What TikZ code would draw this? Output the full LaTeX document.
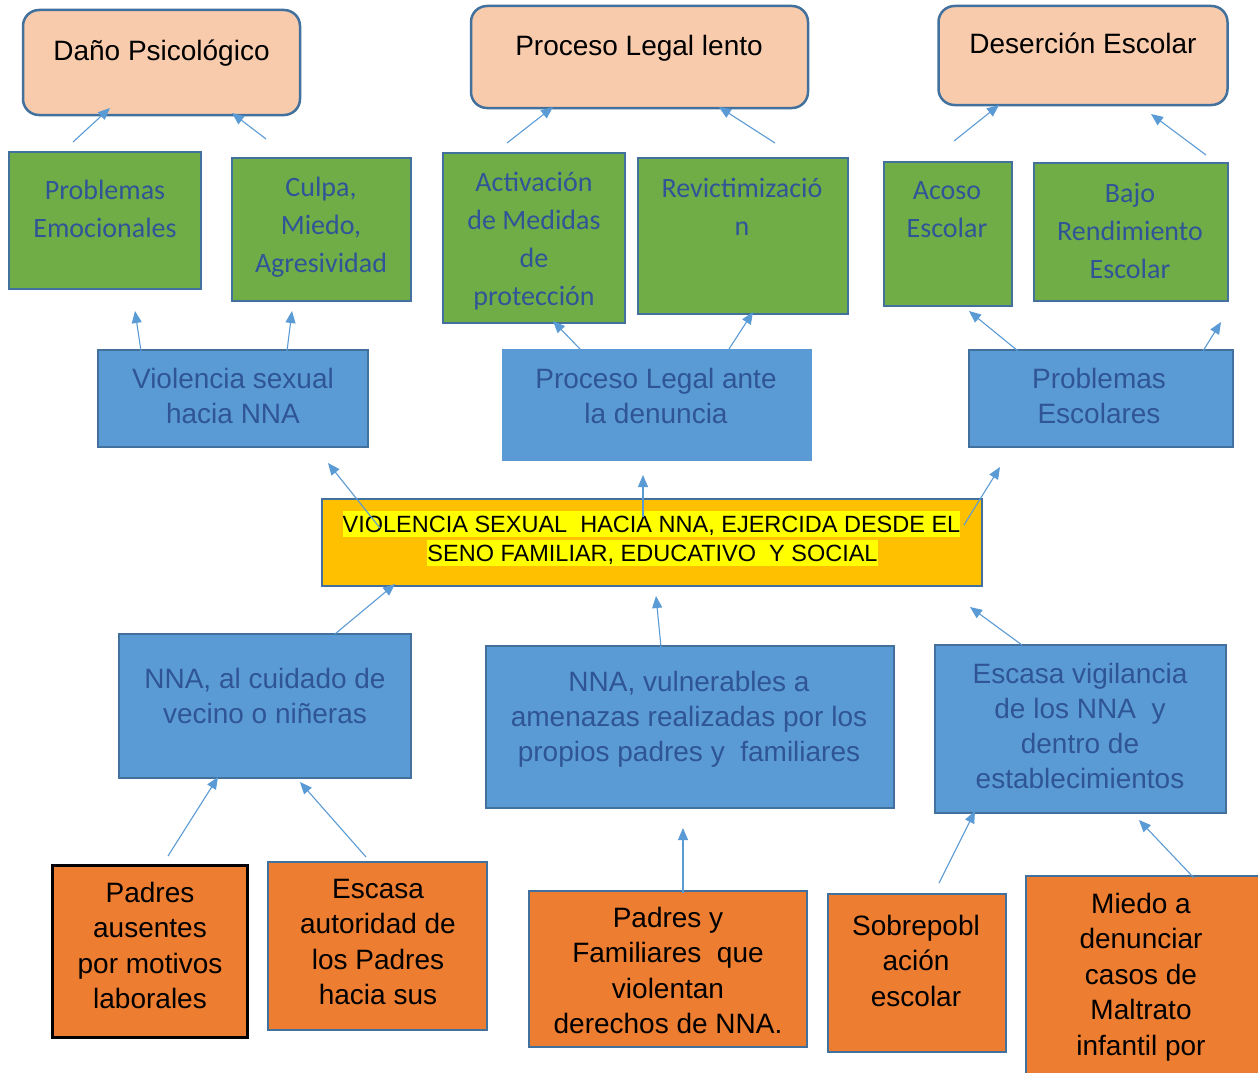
\documentclass[tikz,border=0pt]{standalone}
\usepackage{fontspec}
\setmainfont{Liberation Sans}
\newfontfamily\calfont{Carlito}
\usetikzlibrary{arrows.meta}
\definecolor{peach}{HTML}{F8CBAD}
\definecolor{bord}{HTML}{41719C}
\definecolor{grn}{HTML}{70AD47}
\definecolor{blu}{HTML}{5B9BD5}
\definecolor{org}{HTML}{ED7D31}
\definecolor{gold}{HTML}{FFC000}
\definecolor{hl}{HTML}{FFFF00}
\definecolor{tblue}{HTML}{2F5597}
\definecolor{arrc}{HTML}{5B9BD5}
\begin{document}
\begin{tikzpicture}[x=1pt,y=-1pt,
 box/.style={draw=bord, line width=2pt, inner sep=0pt},
 pbox/.style={box, fill=peach, rounded corners=16pt, line width=2.5pt},
 gbox/.style={box, fill=grn},
 bbox/.style={box, fill=blu},
 obox/.style={box, fill=org},
 cbox/.style={box, fill=gold},
 txt/.style={inner sep=0pt, align=center, anchor=north},
 ptxt/.style={inner sep=0pt, anchor=base, font=\fontsize{28}{35}\selectfont, text=black},
 gtxt/.style={txt, font=\calfont\fontsize{28}{38}\selectfont, text=tblue},
 btxt/.style={txt, font=\fontsize{28}{35}\selectfont, text=tblue},
 otxt/.style={txt, font=\fontsize{28}{35.5}\selectfont, text=black},
 ctxt/.style={inner sep=0pt, anchor=base, fill=hl, text height=21pt, text depth=5pt, font=\fontsize{23.5}{29}\selectfont, text=black},
 arr/.style={draw=arrc, line width=1.1pt, -{Triangle[length=12pt,width=10pt]}}]
\clip (0,0) rectangle (1258,1073);
\fill[white] (0,0) rectangle (1258,1073);

% top peach boxes
\node[pbox, minimum width=277pt, minimum height=105pt] (dp) at (161.5,62.5) {};
\node[pbox, minimum width=337pt, minimum height=102pt] (pl) at (639.5,57) {};
\node[pbox, minimum width=289pt, minimum height=99pt] (de) at (1083,55.5) {};
\node[ptxt] (dpt) at (161.5,61) {Daño Psicológico};
\node[ptxt] (plt) at (639,56) {Proceso Legal lento};
\node[ptxt] (det) at (1083,54) {Deserción Escolar};

% green boxes
\node[gbox, minimum width=192pt, minimum height=137pt] (pe) at (105,220.5) {};
\node[gbox, minimum width=179pt, minimum height=143pt] (cu) at (321.5,229.5) {};
\node[gbox, minimum width=182pt, minimum height=170pt] (ac) at (534,238) {};
\node[gbox, minimum width=210pt, minimum height=156pt] (rv) at (743,236) {};
\node[gbox, minimum width=128pt, minimum height=144pt] (ao) at (948,234) {};
\node[gbox, minimum width=194pt, minimum height=138pt] (bj) at (1131,232) {};
\node[gtxt] (pet) at (105,172.4) {\strut Problemas\\Emocionales\strut};
\node[gtxt] (cut) at (321,169.4) {\strut Culpa,\\Miedo,\\Agresividad\strut};
\node[gtxt] (act) at (534,164.4) {\strut Activación\\de Medidas\\de\\protección\strut};
\node[gtxt] (rvt) at (742,170.4) {\strut Revictimizació\\n\strut};
\node[gtxt] (aot) at (947,172.4) {\strut Acoso\\Escolar\strut};
\node[gtxt] (bjt) at (1130,175.4) {\strut Bajo\\Rendimiento\\Escolar\strut};

% middle blue boxes
\node[bbox, minimum width=270pt, minimum height=97pt] (vs) at (233,398) {};
\node[bbox, draw=blu, minimum width=308pt, minimum height=110pt] (plb) at (657,405) {};
\node[bbox, minimum width=264pt, minimum height=97pt] (ps) at (1101,398.5) {};
\node[btxt] (vst) at (233,363.5) {\strut Violencia sexual\\hacia NNA\strut};
\node[btxt] (plbt) at (656,363.5) {\strut Proceso Legal ante\\la denuncia\strut};
\node[btxt] (pst) at (1099,363.5) {\strut Problemas\\Escolares\strut};

% central box
\node[cbox, minimum width=660pt, minimum height=87pt] (cb) at (652,542.5) {};
\node[ctxt] (cb1) at (651.5,532) {VIOLENCIA SEXUAL\ \ HACIA NNA, EJERCIDA DESDE EL};
\node[ctxt] (cb2) at (652.5,561) {SENO FAMILIAR, EDUCATIVO\ \ Y SOCIAL};

% lower blue boxes
\node[bbox, minimum width=292pt, minimum height=144pt] (nc) at (265,706) {};
\node[bbox, minimum width=408pt, minimum height=162pt] (nv) at (690,727) {};
\node[bbox, minimum width=291pt, minimum height=168pt] (ev) at (1080.5,729) {};
\node[btxt] (nct) at (265,663.5) {\strut NNA, al cuidado de\\vecino o niñeras\strut};
\node[btxt] (nvt) at (689,666.5) {\strut NNA, vulnerables a\\amenazas realizadas por los\\propios padres y\ \ familiares\strut};
\node[btxt] (evt) at (1080,658.5) {\strut Escasa vigilancia\\de los NNA\ \ y\\dentro de\\establecimientos\strut};

% orange boxes
\node[obox, draw=black, line width=3pt, minimum width=195pt, minimum height=172pt] (pa) at (149.5,951) {};
\node[obox, minimum width=219pt, minimum height=168pt] (ea) at (377.5,946) {};
\node[obox, minimum width=278pt, minimum height=156pt] (pf) at (668,969) {};
\node[obox, minimum width=178pt, minimum height=158pt] (sp) at (917,973) {};
\node[obox, minimum width=244pt, minimum height=248pt] (md) at (1148,1000) {};
\node[otxt] (pat) at (150,877.15) {\strut Padres\\ausentes\\por motivos\\laborales\strut};
\node[otxt] (eat) at (378,873.15) {\strut Escasa\\autoridad de\\los Padres\\hacia sus\strut};
\node[otxt] (pft) at (668,902.15) {\strut Padres y\\Familiares\ \ que\\violentan\\derechos de NNA.\strut};
\node[otxt] (spt) at (916,910.15) {\strut Sobrepobl\\ación\\escolar\strut};
\node[otxt] (mdt) at (1141,888.15) {\strut Miedo a\\denunciar\\casos de\\Maltrato\\infantil por\strut};

% connector end points
\coordinate (a1s) at (73,142);   \coordinate (a1e) at (110,108);
\coordinate (a2s) at (266,139);  \coordinate (a2e) at (232,113);
\coordinate (a3s) at (507,143);  \coordinate (a3e) at (553,107);
\coordinate (a4s) at (775,143);  \coordinate (a4e) at (719,107);
\coordinate (a5s) at (954,141);  \coordinate (a5e) at (999,105);
\coordinate (a6s) at (1206,155); \coordinate (a6e) at (1151,114);
\coordinate (b1s) at (141,351);  \coordinate (b1e) at (135,311);
\coordinate (b2s) at (287,351);  \coordinate (b2e) at (292,311);
\coordinate (b3s) at (580,349);  \coordinate (b3e) at (553,321);
\coordinate (b4s) at (729,349);  \coordinate (b4e) at (753,312);
\coordinate (b5s) at (1018,351); \coordinate (b5e) at (969,311);
\coordinate (b6s) at (1203,351); \coordinate (b6e) at (1221,322);
\coordinate (c1s) at (380,528);  \coordinate (c1e) at (328,463);
\coordinate (c2s) at (643,517);  \coordinate (c2e) at (643,475);
\coordinate (c3s) at (964,525);  \coordinate (c3e) at (1000,467);
\coordinate (d1s) at (335,634);  \coordinate (d1e) at (395,584);
\coordinate (d2s) at (661,647);  \coordinate (d2e) at (656,596);
\coordinate (d3s) at (1022,645); \coordinate (d3e) at (970,607);
\coordinate (e1s) at (168,856);  \coordinate (e1e) at (218,777);
\coordinate (e2s) at (366,857);  \coordinate (e2e) at (300,782);
\coordinate (e3s) at (683,893);  \coordinate (e3e) at (683,828);
\coordinate (e4s) at (939,883);  \coordinate (e4e) at (975,811);
\coordinate (e5s) at (1194,878); \coordinate (e5e) at (1139,820);

\foreach \p in {a1,a2,a3,a4,a5,a6,b1,b2,b3,b4,b5,b6,c1,c2,c3,d1,d2,d3,e1,e2,e3,e4,e5}
  \draw[arr] (\p s) -- (\p e);
\end{tikzpicture}
\end{document}
